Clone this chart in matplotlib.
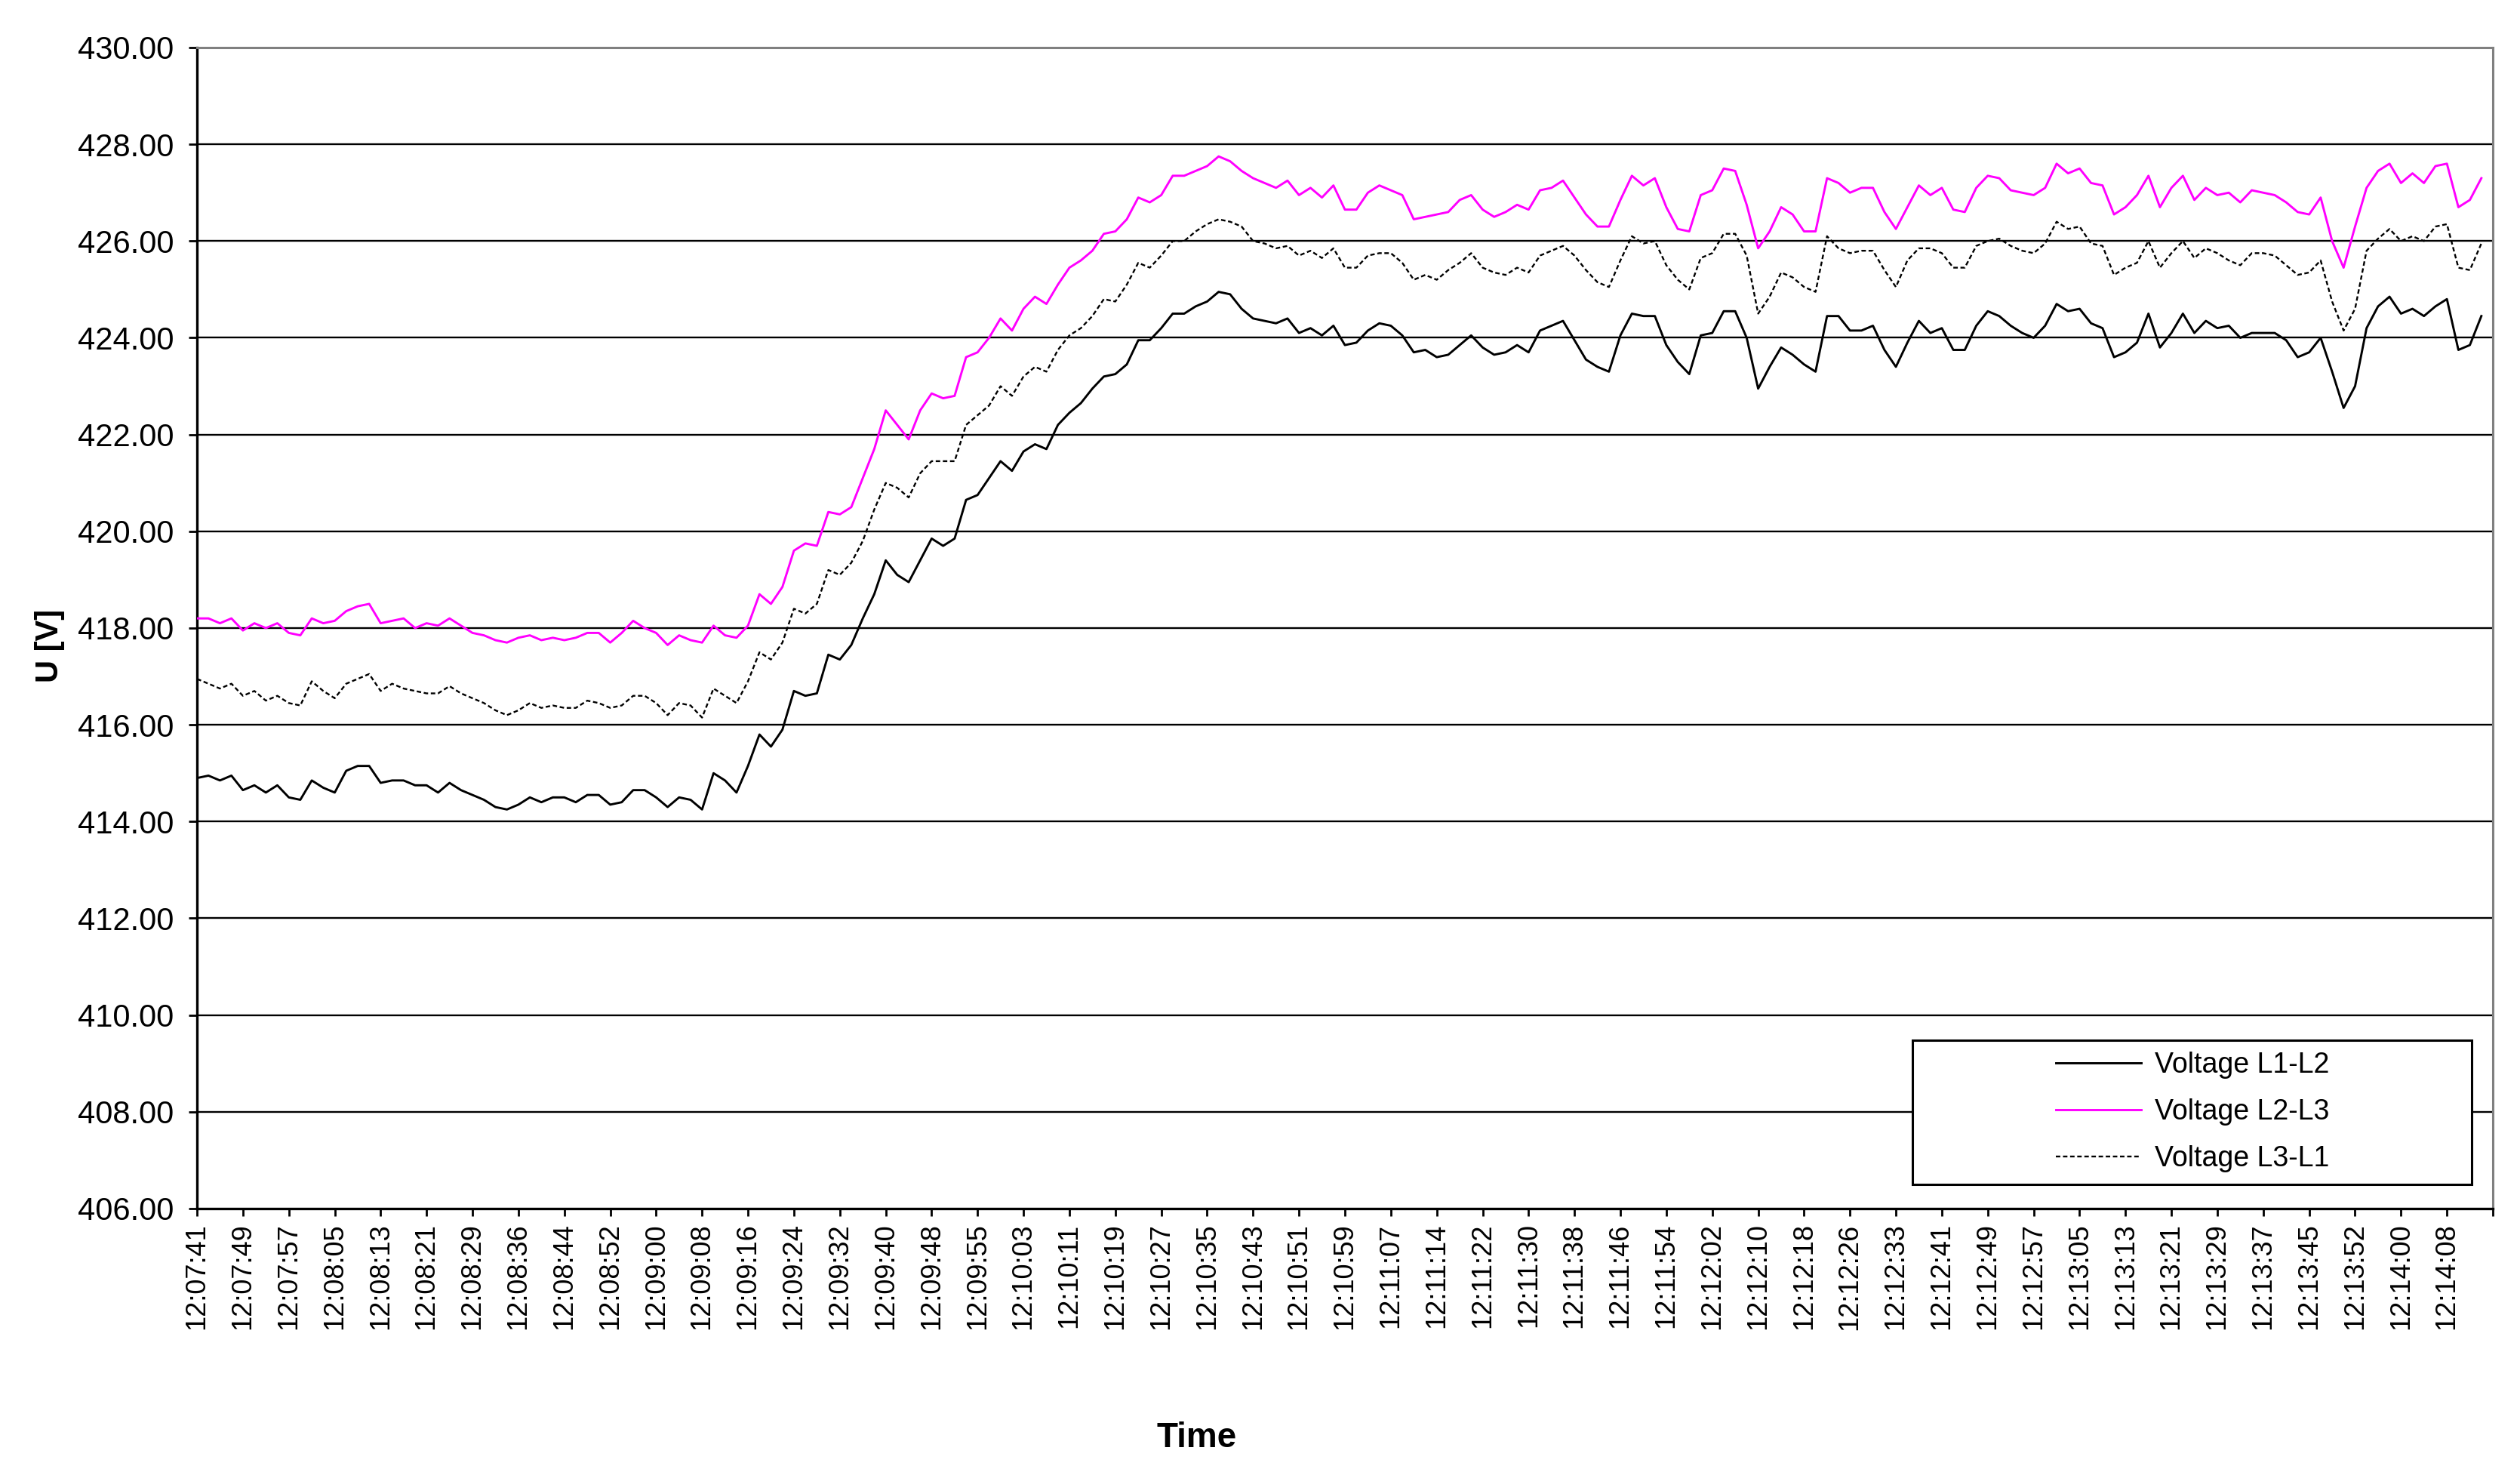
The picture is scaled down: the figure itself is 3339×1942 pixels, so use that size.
import matplotlib.pyplot as plt
from matplotlib.patches import Rectangle
import numpy as np

plt.rcParams['font.family'] = ['Liberation Sans', 'DejaVu Sans']

# one point every ~2 s, x tick label every 4 points
time_labels = ['12:07:41', '12:07:49', '12:07:57', '12:08:05', '12:08:13', '12:08:21', '12:08:29',
               '12:08:36', '12:08:44', '12:08:52', '12:09:00', '12:09:08', '12:09:16', '12:09:24',
               '12:09:32', '12:09:40', '12:09:48', '12:09:55', '12:10:03', '12:10:11', '12:10:19',
               '12:10:27', '12:10:35', '12:10:43', '12:10:51', '12:10:59', '12:11:07', '12:11:14',
               '12:11:22', '12:11:30', '12:11:38', '12:11:46', '12:11:54', '12:12:02', '12:12:10',
               '12:12:18', '12:12:26', '12:12:33', '12:12:41', '12:12:49', '12:12:57', '12:13:05',
               '12:13:13', '12:13:21', '12:13:29', '12:13:37', '12:13:45', '12:13:52', '12:14:00',
               '12:14:08']

l1_l2 = [
    414.9, 414.95, 414.85, 414.95, 414.65, 414.75, 414.6, 414.75, 414.5, 414.45,
    414.85, 414.7, 414.6, 415.05, 415.15, 415.15, 414.8, 414.85, 414.85, 414.75,
    414.75, 414.6, 414.8, 414.65, 414.55, 414.45, 414.3, 414.25, 414.35, 414.5,
    414.4, 414.5, 414.5, 414.4, 414.55, 414.55, 414.35, 414.4, 414.65, 414.65,
    414.5, 414.3, 414.5, 414.45, 414.25, 415.0, 414.85, 414.6, 415.15, 415.8,
    415.55, 415.9, 416.7, 416.6, 416.65, 417.45, 417.35, 417.65, 418.2, 418.7,
    419.4, 419.1, 418.95, 419.4, 419.85, 419.7, 419.85, 420.65, 420.75, 421.1,
    421.45, 421.25, 421.65, 421.8, 421.7, 422.2, 422.45, 422.65, 422.95, 423.2,
    423.25, 423.45, 423.95, 423.95, 424.2, 424.5, 424.5, 424.65, 424.75, 424.95,
    424.9, 424.6, 424.4, 424.35, 424.3, 424.4, 424.1, 424.2, 424.05, 424.25,
    423.85, 423.9, 424.15, 424.3, 424.25, 424.05, 423.7, 423.75, 423.6, 423.65,
    423.85, 424.05, 423.8, 423.65, 423.7, 423.85, 423.7, 424.15, 424.25, 424.35,
    423.95, 423.55, 423.4, 423.3, 424.05, 424.5, 424.45, 424.45, 423.85, 423.5,
    423.25, 424.05, 424.1, 424.55, 424.55, 424.0, 422.95, 423.4, 423.8, 423.65,
    423.45, 423.3, 424.45, 424.45, 424.15, 424.15, 424.25, 423.75, 423.4, 423.9,
    424.35, 424.1, 424.2, 423.75, 423.75, 424.25, 424.55, 424.45, 424.25, 424.1,
    424.0, 424.25, 424.7, 424.55, 424.6, 424.3, 424.2, 423.6, 423.7, 423.9,
    424.5, 423.8, 424.1, 424.5, 424.1, 424.35, 424.2, 424.25, 424.0, 424.1,
    424.1, 424.1, 423.95, 423.6, 423.7, 424.0, 423.3, 422.55, 423.0, 424.2,
    424.65, 424.85, 424.5, 424.6, 424.45, 424.65, 424.8, 423.75, 423.85, 424.45]

l2_l3 = [
    418.2, 418.2, 418.1, 418.2, 417.95, 418.1, 418.0, 418.1, 417.9, 417.85,
    418.2, 418.1, 418.15, 418.35, 418.45, 418.5, 418.1, 418.15, 418.2, 418.0,
    418.1, 418.05, 418.2, 418.05, 417.9, 417.85, 417.75, 417.7, 417.8, 417.85,
    417.75, 417.8, 417.75, 417.8, 417.9, 417.9, 417.7, 417.9, 418.15, 418.0,
    417.9, 417.65, 417.85, 417.75, 417.7, 418.05, 417.85, 417.8, 418.05, 418.7,
    418.5, 418.85, 419.6, 419.75, 419.7, 420.4, 420.35, 420.5, 421.1, 421.7,
    422.5, 422.2, 421.9, 422.5, 422.85, 422.75, 422.8, 423.6, 423.7, 424.0,
    424.4, 424.15, 424.6, 424.85, 424.7, 425.1, 425.45, 425.6, 425.8, 426.15,
    426.2, 426.45, 426.9, 426.8, 426.95, 427.35, 427.35, 427.45, 427.55, 427.75,
    427.65, 427.45, 427.3, 427.2, 427.1, 427.25, 426.95, 427.1, 426.9, 427.15,
    426.65, 426.65, 427.0, 427.15, 427.05, 426.95, 426.45, 426.5, 426.55, 426.6,
    426.85, 426.95, 426.65, 426.5, 426.6, 426.75, 426.65, 427.05, 427.1, 427.25,
    426.9, 426.55, 426.3, 426.3, 426.85, 427.35, 427.15, 427.3, 426.7, 426.25,
    426.2, 426.95, 427.05, 427.5, 427.45, 426.75, 425.85, 426.2, 426.7, 426.55,
    426.2, 426.2, 427.3, 427.2, 427.0, 427.1, 427.1, 426.6, 426.25, 426.7,
    427.15, 426.95, 427.1, 426.65, 426.6, 427.1, 427.35, 427.3, 427.05, 427.0,
    426.95, 427.1, 427.6, 427.4, 427.5, 427.2, 427.15, 426.55, 426.7, 426.95,
    427.35, 426.7, 427.1, 427.35, 426.85, 427.1, 426.95, 427.0, 426.8, 427.05,
    427.0, 426.95, 426.8, 426.6, 426.55, 426.9, 426.0, 425.45, 426.3, 427.1,
    427.45, 427.6, 427.2, 427.4, 427.2, 427.55, 427.6, 426.7, 426.85, 427.3]

l3_l1 = [
    416.95, 416.85, 416.75, 416.85, 416.6, 416.7, 416.5, 416.6, 416.45, 416.4,
    416.9, 416.7, 416.55, 416.85, 416.95, 417.05, 416.7, 416.85, 416.75, 416.7,
    416.65, 416.65, 416.8, 416.65, 416.55, 416.45, 416.3, 416.2, 416.3, 416.45,
    416.35, 416.4, 416.35, 416.35, 416.5, 416.45, 416.35, 416.4, 416.6, 416.6,
    416.45, 416.2, 416.45, 416.4, 416.15, 416.75, 416.6, 416.45, 416.9, 417.5,
    417.35, 417.7, 418.4, 418.3, 418.5, 419.2, 419.1, 419.35, 419.8, 420.45,
    421.0, 420.9, 420.7, 421.2, 421.45, 421.45, 421.45, 422.2, 422.4, 422.6,
    423.0, 422.8, 423.2, 423.4, 423.3, 423.75, 424.05, 424.2, 424.45, 424.8,
    424.75, 425.1, 425.55, 425.45, 425.7, 426.0, 426.0, 426.2, 426.35, 426.45,
    426.4, 426.3, 426.0, 425.95, 425.85, 425.9, 425.7, 425.8, 425.65, 425.85,
    425.45, 425.45, 425.7, 425.75, 425.75, 425.55, 425.2, 425.3, 425.2, 425.4,
    425.55, 425.75, 425.45, 425.35, 425.3, 425.45, 425.35, 425.7, 425.8, 425.9,
    425.7, 425.4, 425.15, 425.05, 425.6, 426.1, 425.95, 426.0, 425.5, 425.2,
    425.0, 425.65, 425.75, 426.15, 426.15, 425.7, 424.5, 424.85, 425.35, 425.25,
    425.05, 424.95, 426.1, 425.85, 425.75, 425.8, 425.8, 425.4, 425.05, 425.6,
    425.85, 425.85, 425.75, 425.45, 425.45, 425.9, 426.0, 426.05, 425.9, 425.8,
    425.75, 425.95, 426.4, 426.25, 426.3, 425.95, 425.9, 425.3, 425.45, 425.55,
    426.0, 425.45, 425.75, 426.0, 425.65, 425.85, 425.75, 425.6, 425.5, 425.75,
    425.75, 425.7, 425.5, 425.3, 425.35, 425.6, 424.75, 424.15, 424.6, 425.8,
    426.05, 426.25, 426.0, 426.1, 426.0, 426.3, 426.35, 425.45, 425.4, 425.95]

W, H = 3339, 1942
fig = plt.figure(figsize=(W / 100, H / 100), dpi=100)
ax = fig.add_axes([261 / W, 1 - 1601 / H, (3303 - 261) / W, (1601 - 63) / H])

x = np.arange(len(l1_l2))
ax.plot(x, l1_l2, color='black', lw=2.1, label='Voltage L1-L2', zorder=3)
ax.plot(x, l2_l3, color='#ff00ff', lw=2.1, label='Voltage L2-L3', zorder=3)
ax.plot(x, l3_l1, color='black', lw=1.7, ls=(0, (2.5, 1.5)), label='Voltage L3-L1', zorder=3)

ax.set_xlim(0, 200)
ax.set_ylim(406, 430)
yticks = np.arange(406, 431, 2)
ax.set_yticks(yticks)
ax.yaxis.set_major_formatter('{x:.2f}')
ax.set_xticks(np.arange(0, 201, 4))
ax.set_xticklabels(time_labels + [''], rotation=90)

for yv in yticks[1:-1]:
    ax.axhline(yv, color='black', lw=1.7, zorder=1)

ax.tick_params(axis='y', length=8, width=2, pad=14, labelsize=30, direction='out')
ax.tick_params(axis='x', length=7, width=2, pad=7, labelsize=26, direction='out')
for s in ['left', 'bottom']:
    ax.spines[s].set_color('black')
    ax.spines[s].set_linewidth(2.4)
for s in ['top', 'right']:
    ax.spines[s].set_color('#808080')
    ax.spines[s].set_linewidth(2.2)

box = Rectangle((2534 / W, 1 - 1569 / H), 741 / W, 191 / H, transform=fig.transFigure,
                facecolor='white', edgecolor='black', lw=2.2, zorder=6)
ax.add_patch(box)
leg = ax.legend(loc='center left', bbox_to_anchor=(2724 / W, 1 - 1473 / H),
                bbox_transform=fig.transFigure, frameon=False, fontsize=27,
                handlelength=3.0, handletextpad=0.5, labelspacing=0.7,
                borderpad=0, borderaxespad=0)
leg.set_zorder(10)

fig.text(66 / W, 1 - 855 / H, 'U [V]', rotation=90, fontsize=30, fontweight='bold',
         ha='center', va='center')
fig.text(1586 / W, 1 - 1905 / H, 'Time', fontsize=33, fontweight='bold',
         ha='center', va='center')

fig.savefig('out.png', dpi=100)
